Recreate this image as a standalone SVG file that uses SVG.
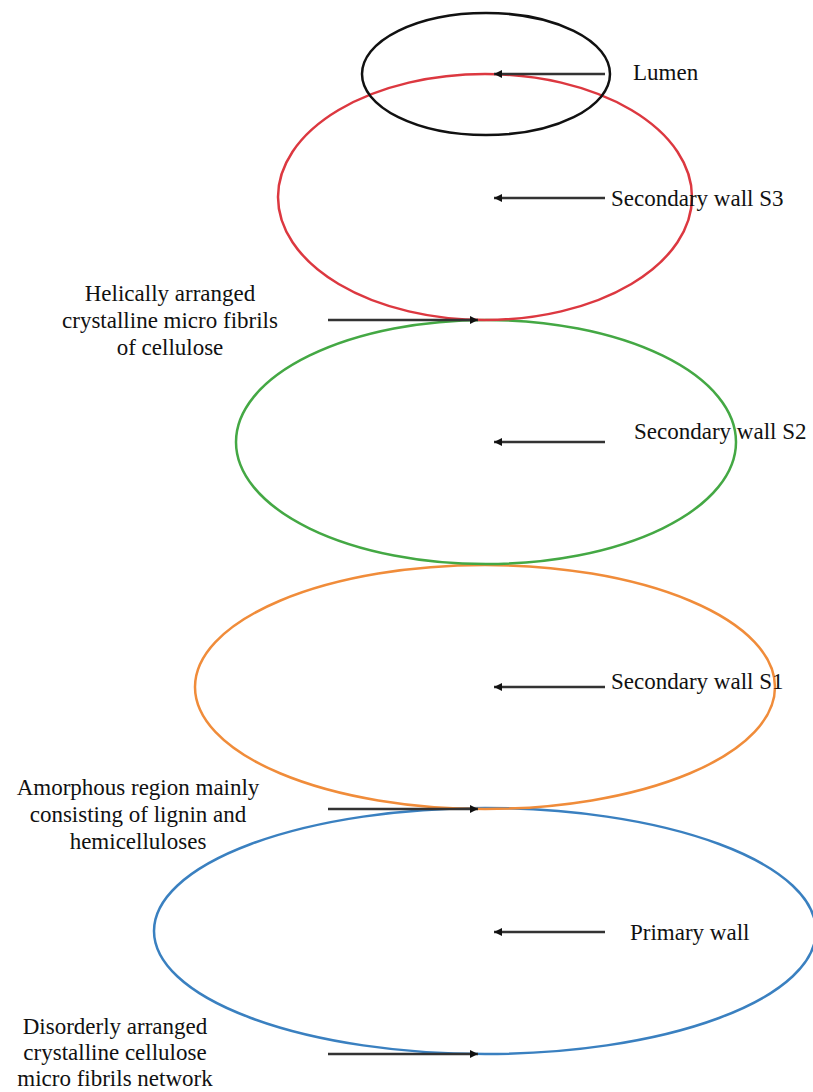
<svg xmlns="http://www.w3.org/2000/svg" width="813" height="1092" viewBox="0 0 813 1092">
<defs>
<marker id="ah" viewBox="0 0 10 10" refX="10" refY="5" markerWidth="13" markerHeight="8" markerUnits="userSpaceOnUse" orient="auto">
<path d="M0,0 L10,5 L0,10 z" fill="#111"/>
</marker>
<style>
.e{fill:none;stroke-width:2.5}
.a{stroke:#333;stroke-width:2.4;fill:none}
text{font-family:"Liberation Serif","Times New Roman",serif;font-size:23px;fill:#111}
.m{text-anchor:middle}
</style>
</defs>
<rect width="813" height="1092" fill="#fff"/>
<g id="primary"><ellipse class="e" cx="485" cy="931" rx="331" ry="123" stroke="#3a80c0"/></g>
<g id="s1"><ellipse class="e" cx="485" cy="687" rx="290" ry="122" stroke="#f08c3a"/></g>
<g id="s2"><ellipse class="e" cx="486" cy="442" rx="250" ry="122" stroke="#44a844"/></g>
<g id="s3"><ellipse class="e" cx="485" cy="197" rx="207" ry="123" stroke="#dc3840"/></g>
<g id="lumen"><ellipse class="e" cx="486" cy="74" rx="124" ry="61" stroke="#111"/></g>
<g id="connectors">
<line class="a" x1="605" y1="74" x2="494" y2="74" marker-end="url(#ah)"/>
<line class="a" x1="605" y1="198" x2="494" y2="198" marker-end="url(#ah)"/>
<line class="a" x1="605" y1="442" x2="494" y2="442" marker-end="url(#ah)"/>
<line class="a" x1="605" y1="687" x2="494" y2="687" marker-end="url(#ah)"/>
<line class="a" x1="605" y1="932" x2="494" y2="932" marker-end="url(#ah)"/>
<line class="a" x1="328" y1="320" x2="478" y2="320" marker-end="url(#ah)"/>
<line class="a" x1="328" y1="809" x2="478" y2="809" marker-end="url(#ah)"/>
<line class="a" x1="328" y1="1054" x2="478" y2="1054" marker-end="url(#ah)"/>
</g>
<g id="labels">
<text x="633" y="80">Lumen</text>
<text x="611" y="206">Secondary wall S3</text>
<text x="634" y="439">Secondary wall S2</text>
<text x="611" y="689">Secondary wall S1</text>
<text x="630" y="940">Primary wall</text>
<text class="m" x="170" y="301">Helically arranged</text>
<text class="m" x="170" y="328">crystalline micro fibrils</text>
<text class="m" x="170" y="355">of cellulose</text>
<text class="m" x="138" y="795">Amorphous region mainly</text>
<text class="m" x="138" y="822">consisting of lignin and</text>
<text class="m" x="138" y="849">hemicelluloses</text>
<text class="m" x="115" y="1034">Disorderly arranged</text>
<text class="m" x="115" y="1060">crystalline cellulose</text>
<text class="m" x="115" y="1086">micro fibrils network</text>
</g>
</svg>
